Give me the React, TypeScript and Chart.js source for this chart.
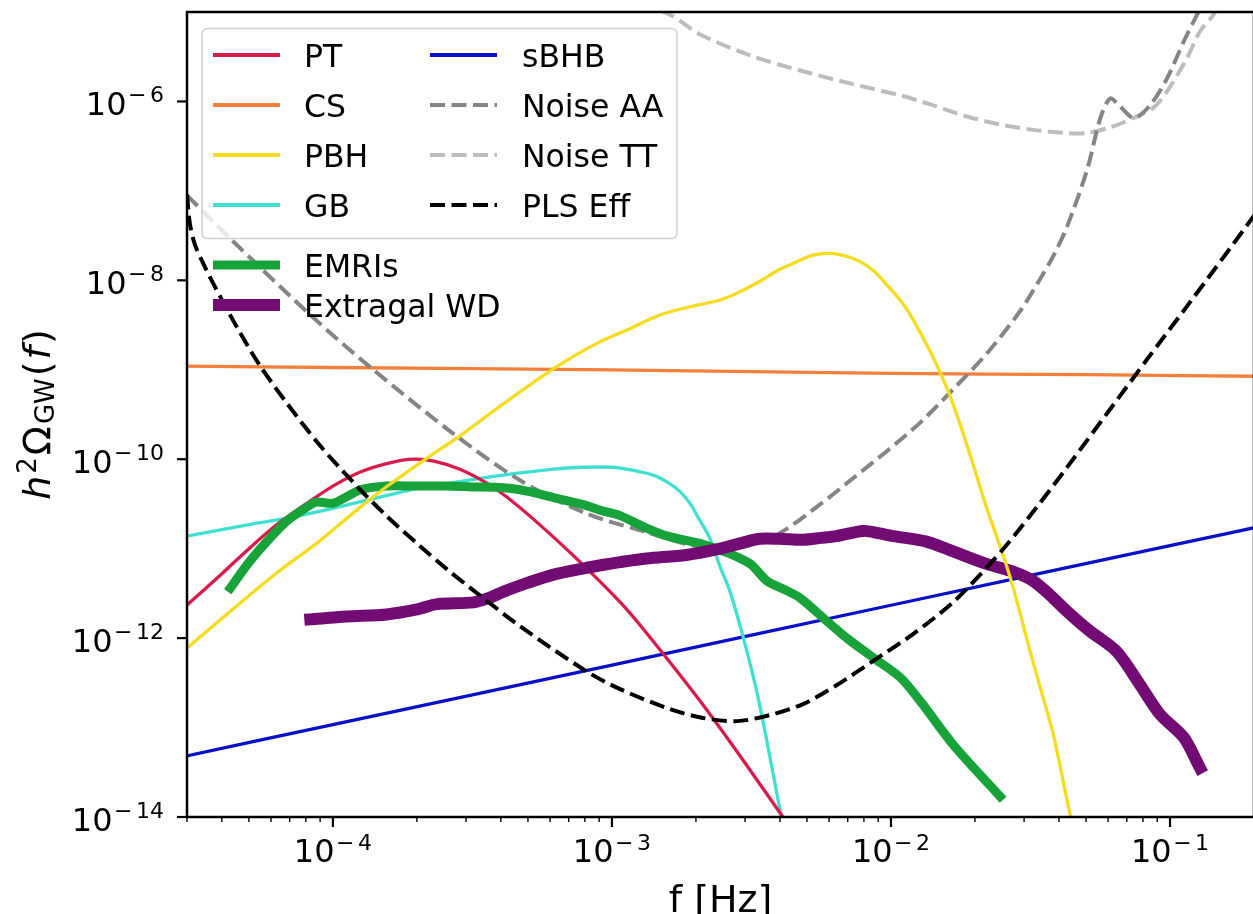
import { useEffect, useRef } from "react";
import { Chart, registerables } from "chart.js";

Chart.register(...registerables);

const FONT = "'DejaVu Sans', 'Liberation Sans', Arial, sans-serif";

// ---- axes ----
const X_MIN = 3e-5;
const X_MAX = 0.2;
const Y_MIN = 1e-14;
const Y_MAX = 1e-5;
const X_MAJOR_TICKS = [1e-4, 1e-3, 1e-2, 1e-1];
const X_TICK_EXPONENTS = ["\u22124", "\u22123", "\u22122", "\u22121"];
const Y_MAJOR_TICKS = [1e-14, 1e-12, 1e-10, 1e-8, 1e-6];
const Y_TICK_EXPONENTS = ["\u221214", "\u221212", "\u221210", "\u22128", "\u22126"];
const X_TITLE = "f [Hz]";

// ---- series (frequency [Hz], h^2 Omega_GW) ----
const PT_F = [3.0e-5, 4.0e-5, 5.0e-5, 6.3e-5, 8.0e-5, 1.0e-4, 1.26e-4, 1.6e-4, 1.95e-4, 2.3e-4, 2.85e-4, 3.56e-4, 4.21e-4, 5.38e-4, 7.5e-4, 1.07e-3, 1.33e-3, 2.07e-3, 2.88e-3, 4.1e-3, 5.13e-3];
const PT_OMEGA = [2.34e-12, 5.25e-12, 1.0e-11, 1.86e-11, 3.16e-11, 5.01e-11, 7.24e-11, 9.12e-11, 1.0e-10, 9.5e-11, 7.73e-11, 5.4e-11, 3.76e-11, 1.98e-11, 7.63e-12, 2.52e-12, 1.14e-12, 1.98e-13, 4.81e-14, 1.0e-14, 3.76e-15];

const CS_F = [3.0e-5, 1.0e-4, 1.0e-3, 1.0e-2, 5.0e-2, 0.25];
const CS_OMEGA = [1.1e-9, 1.06e-9, 1.0e-9, 9.12e-10, 8.81e-10, 8.41e-10];

const PBH_F = [3.0e-5, 4.0e-5, 6.3e-5, 8.9e-5, 1.26e-4, 1.6e-4, 2.24e-4, 2.82e-4, 4.0e-4, 6.3e-4, 8.9e-4, 1.12e-3, 1.51e-3, 2.0e-3, 2.44e-3, 2.82e-3, 3.39e-3, 3.98e-3, 4.47e-3, 5.25e-3, 6.03e-3, 6.92e-3, 7.76e-3, 8.71e-3, 9.66e-3, 1.07e-2, 1.17e-2, 1.38e-2, 1.585e-2, 1.77e-2, 1.97e-2, 2.2e-2, 2.51e-2, 2.75e-2, 3.16e-2, 3.55e-2, 3.82e-2, 4.37e-2, 4.57e-2];
const PBH_OMEGA = [7.76e-13, 1.66e-12, 5.37e-12, 1.2e-11, 2.95e-11, 5.25e-11, 1.1e-10, 1.78e-10, 3.98e-10, 1.07e-9, 2.0e-9, 2.75e-9, 4.17e-9, 5.25e-9, 6.03e-9, 7.24e-9, 9.77e-9, 1.32e-8, 1.55e-8, 1.91e-8, 2.0e-8, 1.86e-8, 1.62e-8, 1.26e-8, 8.91e-9, 6.17e-9, 4.17e-9, 1.62e-9, 6.31e-10, 2.45e-10, 8.71e-11, 2.88e-11, 8.91e-12, 3.55e-12, 6.92e-13, 1.91e-13, 8.32e-14, 1.12e-14, 6.31e-15];

const GB_F = [3.0e-5, 5.0e-5, 6.84e-5, 1.0e-4, 1.36e-4, 2.0e-4, 2.71e-4, 4.0e-4, 6.18e-4, 7.94e-4, 1.0e-3, 1.17e-3, 1.41e-3, 1.585e-3, 1.75e-3, 1.91e-3, 2.01e-3, 2.24e-3, 2.44e-3, 2.65e-3, 2.96e-3, 3.3e-3, 3.59e-3, 3.98e-3, 4.17e-3];
const GB_OMEGA = [1.38e-11, 1.86e-11, 2.19e-11, 2.82e-11, 3.55e-11, 4.68e-11, 5.5e-11, 6.61e-11, 7.76e-11, 8.13e-11, 8.13e-11, 7.59e-11, 6.61e-11, 5.5e-11, 4.37e-11, 3.16e-11, 2.4e-11, 1.32e-11, 6.31e-12, 3.31e-12, 1.0e-12, 2.57e-13, 7.08e-14, 1.32e-14, 6.31e-15];

const SBHB_F = [3.0e-5, 1.0e-4, 1.0e-3, 1.0e-2, 1.0e-1, 0.25];
const SBHB_OMEGA = [4.83e-14, 1.08e-13, 5.0e-13, 2.33e-12, 1.08e-11, 1.99e-11];

const AA_F = [3.0e-5, 4.28e-5, 8.48e-5, 1.36e-4, 2.72e-4, 4.68e-4, 8.13e-4, 1.33e-3, 1.86e-3, 2.44e-3, 3.13e-3, 4.0e-3, 5.57e-3, 7.33e-3, 9.66e-3, 1.27e-2, 1.67e-2, 2.21e-2, 2.9e-2, 3.42e-2, 3.81e-2, 4.28e-2, 5.05e-2, 5.61e-2, 6.1e-2, 6.62e-2, 7.43e-2, 8.51e-2, 9.77e-2, 0.112, 0.125, 0.141];
const AA_OMEGA = [8.91e-8, 2.94e-8, 3.86e-9, 1.07e-9, 1.9e-10, 5.82e-11, 2.46e-11, 1.53e-11, 1.12e-11, 1.0e-11, 1.09e-11, 1.49e-11, 3.12e-11, 6.17e-11, 1.23e-10, 2.55e-10, 6.05e-10, 1.53e-9, 4.51e-9, 1.03e-8, 1.85e-8, 4.01e-8, 1.74e-7, 6.3e-7, 1.08e-6, 8.79e-7, 6.52e-7, 9.18e-7, 1.82e-6, 4.68e-6, 9.33e-6, 2.0e-5];

const TT_F = [1.26e-3, 1.61e-3, 2.07e-3, 3.13e-3, 4.72e-3, 7.13e-3, 1.08e-2, 1.42e-2, 1.87e-2, 2.46e-2, 3.23e-2, 4.28e-2, 5.05e-2, 6.25e-2, 7.36e-2, 8.69e-2, 9.75e-2, 0.115, 0.128, 0.143, 0.164];
const TT_OMEGA = [1.23e-5, 9.38e-6, 5.61e-6, 3.27e-6, 2.22e-6, 1.59e-6, 1.17e-6, 9.02e-7, 6.79e-7, 5.53e-7, 4.81e-7, 4.43e-7, 4.43e-7, 5.26e-7, 6.5e-7, 8.41e-7, 1.29e-6, 3.05e-6, 6.05e-6, 9.31e-6, 1.93e-5];

const PLS_F = [3.0e-5, 3.07e-5, 3.2e-5, 3.47e-5, 3.74e-5, 4.53e-5, 5.47e-5, 6.84e-5, 8.98e-5, 1.19e-4, 1.56e-4, 2.05e-4, 2.56e-4, 3.37e-4, 4.68e-4, 8.13e-4, 1.07e-3, 1.61e-3, 2.12e-3, 2.81e-3, 3.68e-3, 4.84e-3, 6.4e-3, 8.61e-3, 1.2e-2, 1.67e-2, 2.21e-2, 2.61e-2, 3.33e-2, 4.28e-2, 6.1e-2, 8.28e-2, 0.115, 0.198, 0.269];
const PLS_OMEGA = [9.14e-8, 4.34e-8, 2.52e-8, 1.43e-8, 9.0e-9, 2.99e-9, 1.12e-9, 4.23e-10, 1.43e-10, 5.4e-11, 2.31e-11, 1.07e-11, 5.9e-12, 2.99e-12, 1.36e-12, 4.23e-13, 2.69e-13, 1.61e-13, 1.28e-13, 1.18e-13, 1.38e-13, 1.83e-13, 2.99e-13, 5.53e-13, 1.11e-12, 2.52e-12, 6.21e-12, 1.12e-11, 2.91e-11, 8.15e-11, 3.62e-10, 1.31e-9, 5.12e-9, 5.06e-8, 2.0e-7];

const EMRI_F = [4.29e-5, 5.01e-5, 5.96e-5, 6.84e-5, 7.94e-5, 8.71e-5, 1.0e-4, 1.12e-4, 1.26e-4, 1.56e-4, 2.0e-4, 2.51e-4, 3.16e-4, 4.09e-4, 5.01e-4, 6.18e-4, 7.94e-4, 9.33e-4, 1.07e-3, 1.33e-3, 1.585e-3, 2.12e-3, 2.51e-3, 2.8e-3, 3.16e-3, 3.59e-3, 4.17e-3, 4.72e-3, 5.89e-3, 7.08e-3, 8.65e-3, 1.08e-2, 1.27e-2, 1.67e-2, 2.46e-2];
const EMRI_OMEGA = [3.63e-12, 7.08e-12, 1.32e-11, 2.04e-11, 2.82e-11, 3.31e-11, 3.22e-11, 3.8e-11, 4.57e-11, 5.01e-11, 5.01e-11, 5.01e-11, 4.9e-11, 4.79e-11, 4.37e-11, 3.72e-11, 3.09e-11, 2.63e-11, 2.34e-11, 1.7e-11, 1.38e-11, 1.12e-11, 9.33e-12, 8.13e-12, 6.61e-12, 4.37e-12, 3.47e-12, 2.82e-12, 1.55e-12, 9.55e-13, 6.03e-13, 3.63e-13, 2.0e-13, 6.46e-14, 1.7e-14];

const WD_F = [8.3e-5, 1.12e-4, 1.56e-4, 2.0e-4, 2.36e-4, 3.19e-4, 3.63e-4, 4.09e-4, 5.01e-4, 6.18e-4, 7.94e-4, 9.33e-4, 1.07e-3, 1.33e-3, 1.85e-3, 2.44e-3, 2.95e-3, 3.39e-3, 3.98e-3, 4.85e-3, 5.62e-3, 6.38e-3, 7.96e-3, 9.12e-3, 1.02e-2, 1.34e-2, 1.67e-2, 2.2e-2, 2.75e-2, 3.23e-2, 3.72e-2, 4.27e-2, 5.16e-2, 6.44e-2, 7.8e-2, 9.2e-2, 0.112, 0.128];
const WD_OMEGA = [1.62e-12, 1.74e-12, 1.84e-12, 2.09e-12, 2.4e-12, 2.51e-12, 2.82e-12, 3.31e-12, 4.17e-12, 5.13e-12, 6.03e-12, 6.61e-12, 7.08e-12, 7.76e-12, 8.51e-12, 1.0e-11, 1.17e-11, 1.29e-11, 1.29e-11, 1.26e-11, 1.32e-11, 1.38e-11, 1.58e-11, 1.48e-11, 1.38e-11, 1.2e-11, 9.33e-12, 6.76e-12, 5.5e-12, 4.37e-12, 3.02e-12, 2.0e-12, 1.2e-12, 7.08e-13, 3.02e-13, 1.41e-13, 7.76e-14, 3.55e-14];

type Series = {
  label: string;
  f: number[];
  omega: number[];
  color: string;
  width: number;
  dash: number[];
  order: number;
};

const DASH = [15, 6.5];

const SERIES: Series[] = [
  { label: "PT", f: PT_F, omega: PT_OMEGA, color: "#d81b4a", width: 3.3, dash: [], order: 6 },
  { label: "CS", f: CS_F, omega: CS_OMEGA, color: "#f3803a", width: 3.3, dash: [], order: 9 },
  { label: "PBH", f: PBH_F, omega: PBH_OMEGA, color: "#f5dc1e", width: 3.3, dash: [], order: 1 },
  { label: "GB", f: GB_F, omega: GB_OMEGA, color: "#40e0d0", width: 3.3, dash: [], order: 7 },
  { label: "sBHB", f: SBHB_F, omega: SBHB_OMEGA, color: "#0a0fc8", width: 3.3, dash: [], order: 8 },
  { label: "Noise AA", f: AA_F, omega: AA_OMEGA, color: "#858585", width: 4, dash: DASH, order: 4 },
  { label: "Noise TT", f: TT_F, omega: TT_OMEGA, color: "#bdbdbd", width: 4, dash: DASH, order: 5 },
  { label: "PLS Eff", f: PLS_F, omega: PLS_OMEGA, color: "#000000", width: 4, dash: DASH, order: 0 },
  { label: "EMRIs", f: EMRI_F, omega: EMRI_OMEGA, color: "#17a33a", width: 9, dash: [], order: 3 },
  { label: "Extragal WD", f: WD_F, omega: WD_OMEGA, color: "#720c74", width: 12, dash: [], order: 2 },
];

const LEGEND_COL1 = ["PT", "CS", "PBH", "GB"];
const LEGEND_COL2 = ["sBHB", "Noise AA", "Noise TT", "PLS Eff"];
const LEGEND_EXTRA = ["EMRIs", "Extragal WD"];

function line(ctx: CanvasRenderingContext2D, x1: number, y1: number, x2: number, y2: number) {
  ctx.beginPath();
  ctx.moveTo(x1, y1);
  ctx.lineTo(x2, y2);
  ctx.stroke();
}

function drawPower(
  ctx: CanvasRenderingContext2D,
  exp: string,
  x: number,
  baseY: number,
  supY: number,
  align: "center" | "right"
) {
  const mainFont = `32px ${FONT}`;
  const supFont = `22px ${FONT}`;
  ctx.font = mainFont;
  const w10 = ctx.measureText("10").width;
  ctx.font = supFont;
  const minus = exp.slice(0, 1);
  const digits = exp.slice(1);
  const wm = ctx.measureText(minus).width;
  const wd = ctx.measureText(digits).width;
  const g1 = 1.5;
  const g2 = 3.5;
  const total = w10 + g1 + wm + g2 + wd;
  const x0 = align === "center" ? x - total / 2 : x - total;
  ctx.textAlign = "left";
  ctx.textBaseline = "alphabetic";
  ctx.font = mainFont;
  ctx.fillText("10", x0, baseY);
  ctx.font = supFont;
  ctx.fillText(minus, x0 + w10 + g1, supY);
  ctx.fillText(digits, x0 + w10 + g1 + wm + g2, supY);
}

function drawYTitle(ctx: CanvasRenderingContext2D, cx: number, cy: number) {
  const parts = [
    { t: "h", font: `italic 38px ${FONT}`, dy: 0 },
    { t: "2", font: `26px ${FONT}`, dy: -14 },
    { t: "\u03A9", font: `38px ${FONT}`, dy: 0 },
    { t: "GW", font: `26px ${FONT}`, dy: 4 },
    { t: "(", font: `38px ${FONT}`, dy: 0 },
    { t: "f", font: `italic 38px ${FONT}`, dy: 0 },
    { t: ")", font: `38px ${FONT}`, dy: 0 },
  ];
  const gap = 2;
  let total = 0;
  const widths = parts.map((p) => {
    ctx.font = p.font;
    const w = ctx.measureText(p.t).width;
    total += w;
    return w;
  });
  total += gap * (parts.length - 1);
  ctx.save();
  ctx.translate(cx, cy);
  ctx.rotate(-Math.PI / 2);
  ctx.textAlign = "left";
  ctx.textBaseline = "alphabetic";
  let x = -total / 2;
  parts.forEach((p, i) => {
    ctx.font = p.font;
    ctx.fillText(p.t, x, p.dy);
    x += widths[i] + gap;
  });
  ctx.restore();
}

function seriesByLabel(label: string): Series {
  return SERIES.find((s) => s.label === label) as Series;
}

function drawHandle(ctx: CanvasRenderingContext2D, s: Series, x1: number, x2: number, y: number) {
  ctx.strokeStyle = s.color;
  ctx.lineWidth = s.dash.length ? s.width : Math.max(s.width, 4);
  ctx.setLineDash(s.dash);
  ctx.lineCap = "butt";
  line(ctx, x1, y, x2, y);
  ctx.setLineDash([]);
}

const decorPlugin = {
  id: "mplDecor",
  afterDatasetsDraw(chart: any) {
    const ctx: CanvasRenderingContext2D = chart.ctx;
    const a = chart.chartArea;
    const xs = chart.scales.x;
    const ys = chart.scales.y;
    ctx.save();
    ctx.setLineDash([]);
    ctx.strokeStyle = "#000";
    ctx.fillStyle = "#000";

    // frame
    ctx.lineWidth = 2.5;
    ctx.strokeRect(a.left, a.top, a.right - a.left, a.bottom - a.top);

    // x ticks
    ctx.lineWidth = 2.2;
    X_MAJOR_TICKS.forEach((v) => {
      const px = xs.getPixelForValue(v);
      line(ctx, px, a.bottom, px, a.bottom + 10);
    });
    ctx.lineWidth = 1.4;
    for (let e = -5; e <= -1; e++) {
      for (let m = 2; m <= 9; m++) {
        const v = m * Math.pow(10, e);
        if (v <= X_MIN || v >= X_MAX) continue;
        const px = xs.getPixelForValue(v);
        line(ctx, px, a.bottom, px, a.bottom + 5);
      }
    }
    // y ticks
    ctx.lineWidth = 2.2;
    Y_MAJOR_TICKS.forEach((v) => {
      const py = ys.getPixelForValue(v);
      line(ctx, a.left - 10, py, a.left, py);
    });

    // tick labels
    X_MAJOR_TICKS.forEach((v, i) => {
      drawPower(ctx, X_TICK_EXPONENTS[i], xs.getPixelForValue(v), a.bottom + 45, a.bottom + 33, "center");
    });
    Y_MAJOR_TICKS.forEach((v, i) => {
      const py = ys.getPixelForValue(v);
      drawPower(ctx, Y_TICK_EXPONENTS[i], a.left - 23, py + 13.5, py + 0.5, "right");
    });

    // axis titles
    ctx.font = `38px ${FONT}`;
    ctx.textAlign = "center";
    ctx.textBaseline = "alphabetic";
    ctx.fillText(X_TITLE, (a.left + a.right) / 2, 912);
    drawYTitle(ctx, 50, (a.top + a.bottom) / 2);

    // main legend box
    const bx = 202, by = 28.5, bw = 475, bh = 210, r = 6;
    ctx.beginPath();
    ctx.moveTo(bx + r, by);
    ctx.lineTo(bx + bw - r, by);
    ctx.quadraticCurveTo(bx + bw, by, bx + bw, by + r);
    ctx.lineTo(bx + bw, by + bh - r);
    ctx.quadraticCurveTo(bx + bw, by + bh, bx + bw - r, by + bh);
    ctx.lineTo(bx + r, by + bh);
    ctx.quadraticCurveTo(bx, by + bh, bx, by + bh - r);
    ctx.lineTo(bx, by + r);
    ctx.quadraticCurveTo(bx, by, bx + r, by);
    ctx.closePath();
    ctx.fillStyle = "rgba(255,255,255,0.8)";
    ctx.fill();
    ctx.strokeStyle = "#d0d0d0";
    ctx.lineWidth = 1.5;
    ctx.stroke();

    const legendFont = `31.5px ${FONT}`;
    const drawEntry = (label: string, hx: number, tx: number, y: number) => {
      drawHandle(ctx, seriesByLabel(label), hx, hx + 67, y);
      ctx.fillStyle = "#000";
      ctx.font = legendFont;
      ctx.textAlign = "left";
      ctx.textBaseline = "alphabetic";
      ctx.fillText(label, tx, y + 11.5);
    };
    LEGEND_COL1.forEach((l, i) => drawEntry(l, 213, 304, 55 + 50 * i));
    LEGEND_COL2.forEach((l, i) => drawEntry(l, 430, 522, 55 + 50 * i));
    LEGEND_EXTRA.forEach((l, i) => drawEntry(l, 213, 304, 265 + 40 * i));

    ctx.restore();
  },
};

export default function App() {
  const ref = useRef<HTMLCanvasElement | null>(null);
  useEffect(() => {
    const canvas = ref.current;
    if (!canvas) return;
    const chart = new Chart(canvas, {
      type: "line",
      data: {
        datasets: SERIES.map((s) => ({
          label: s.label,
          data: s.f.map((f, i) => ({ x: f, y: s.omega[i] })),
          borderColor: s.color,
          backgroundColor: s.color,
          borderWidth: s.width,
          borderDash: s.dash,
          borderCapStyle: s.dash.length ? "butt" : "square",
          borderJoinStyle: "round",
          pointRadius: 0,
          pointHoverRadius: 0,
          fill: false,
          tension: 0.3,
          order: s.order,
          clip: 0,
        })),
      } as any,
      options: {
        responsive: false,
        animation: false,
        events: [],
        layout: { padding: { top: 12, right: 8, bottom: 0, left: 0 } },
        elements: { line: { capBezierPoints: false } },
        plugins: {
          legend: { display: false },
          tooltip: { enabled: false },
          title: { display: false },
        },
        scales: {
          x: {
            type: "logarithmic",
            min: X_MIN,
            max: X_MAX,
            grid: { display: false },
            border: { display: false },
            ticks: { display: false },
            afterFit: (s: any) => {
              s.height = 97;
            },
          },
          y: {
            type: "logarithmic",
            min: Y_MIN,
            max: Y_MAX,
            grid: { display: false },
            border: { display: false },
            ticks: { display: false },
            afterFit: (s: any) => {
              s.width = 187;
            },
          },
        },
      } as any,
      plugins: [decorPlugin],
    });
    return () => chart.destroy();
  }, []);
  return (
    <div
      style={{
        position: "fixed",
        left: 0,
        top: 0,
        width: 1253,
        height: 914,
        overflow: "hidden",
        background: "#fff",
      }}
    >
      <canvas ref={ref} width={1262} height={914} style={{ display: "block", width: 1262, height: 914 }} />
    </div>
  );
}
